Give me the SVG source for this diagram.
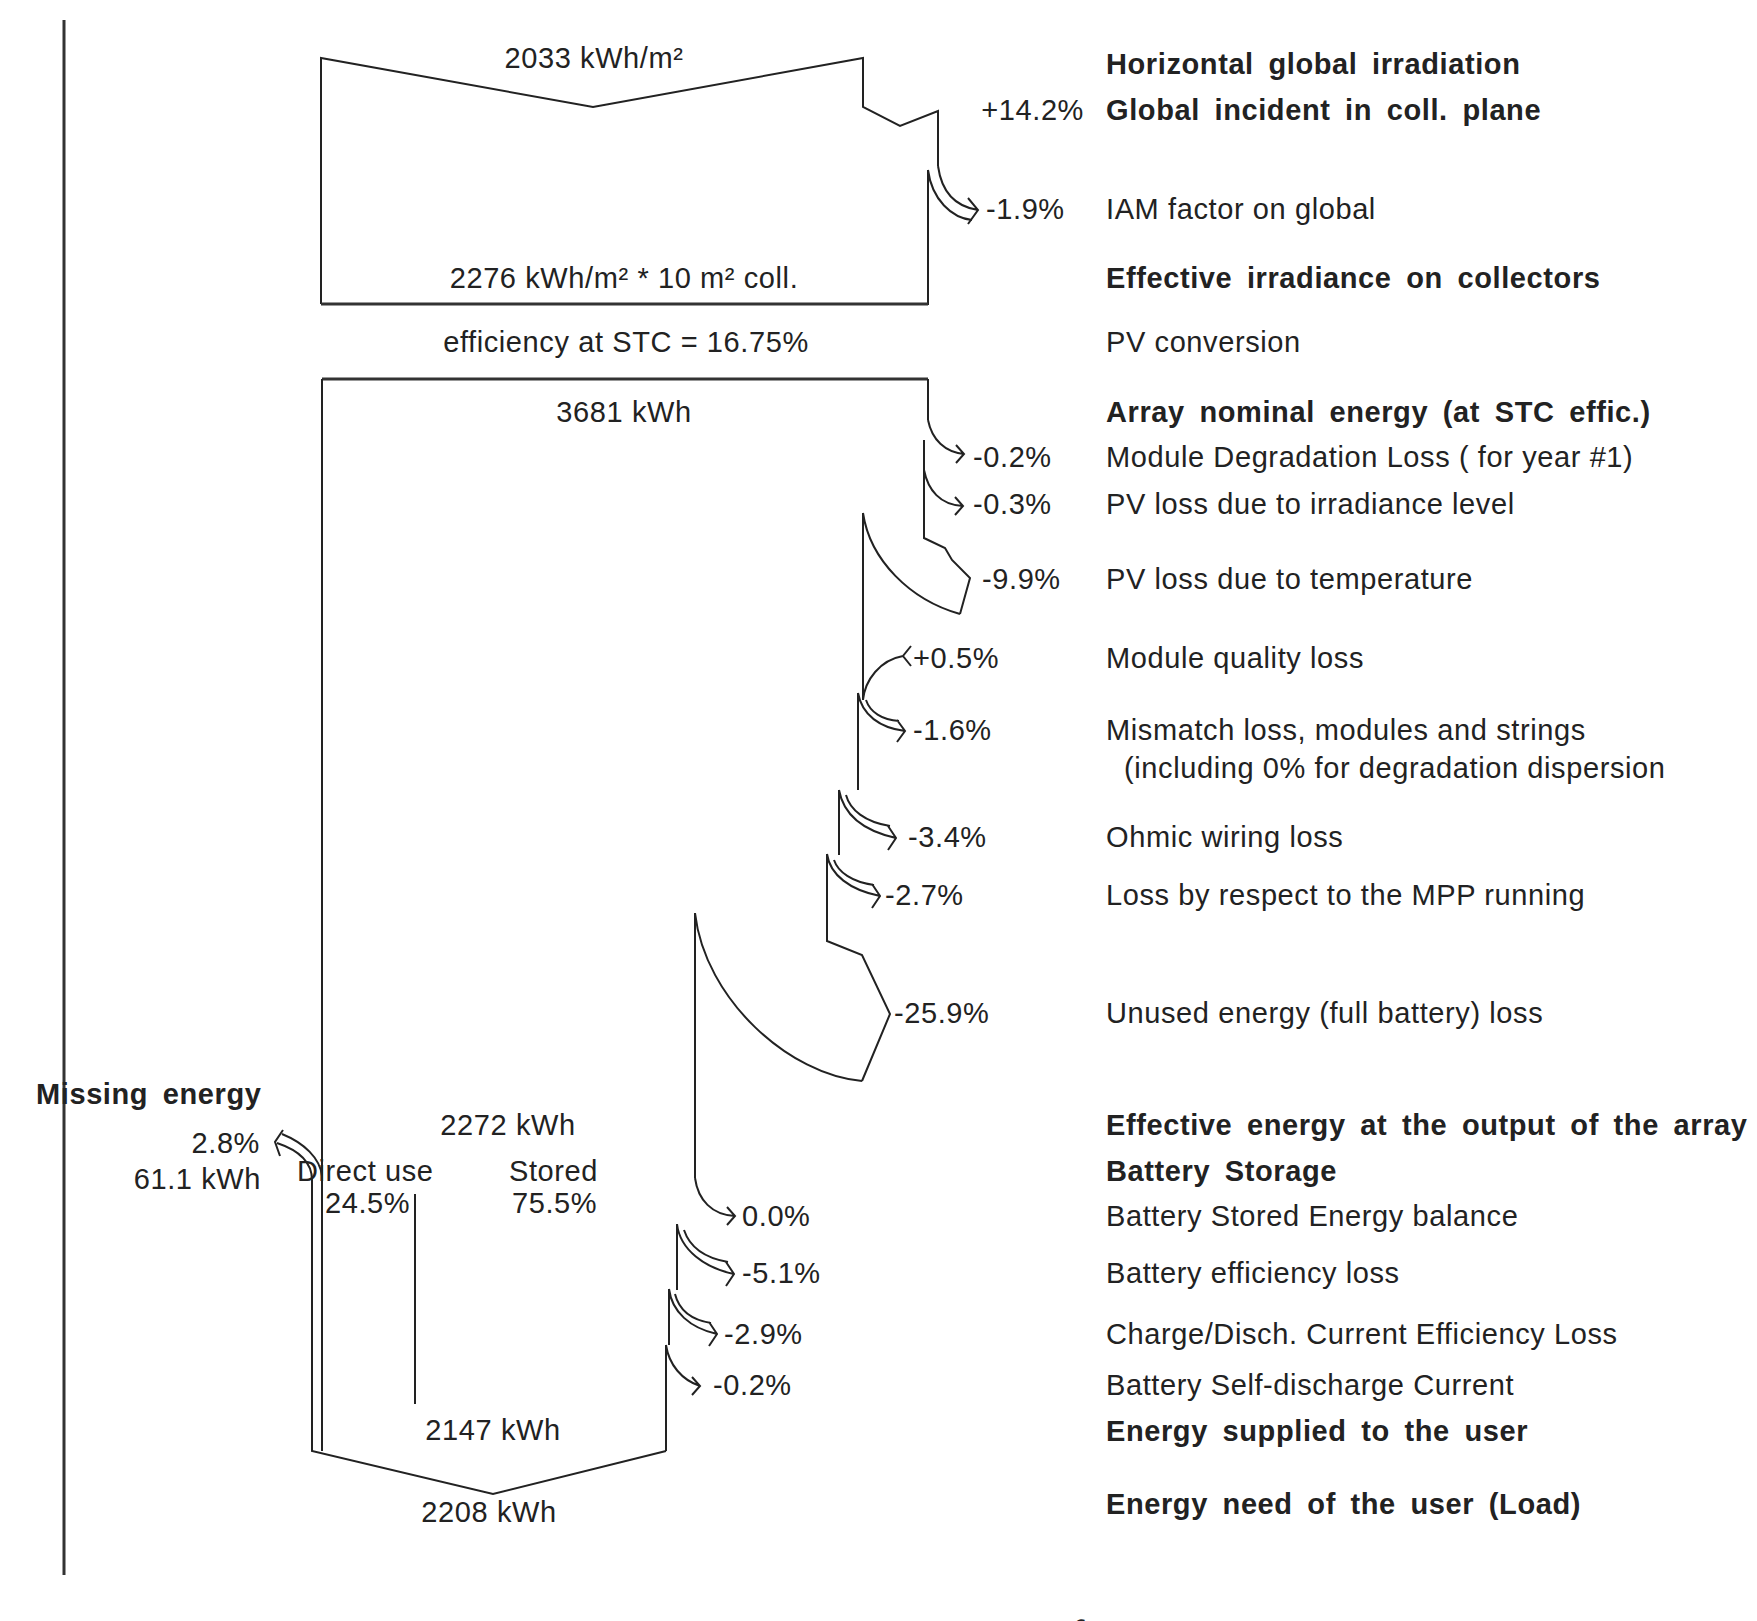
<svg xmlns="http://www.w3.org/2000/svg" width="1757" height="1621" viewBox="0 0 1757 1621">
<style>
text{font-family:"Liberation Sans",Arial,sans-serif;font-size:29px;letter-spacing:0.6px;fill:#222}
.b{font-weight:bold;word-spacing:6px}
.m{text-anchor:middle}
.e{text-anchor:end}
.ln{fill:none;stroke:#222;stroke-width:2}
.thk{fill:none;stroke:#333;stroke-width:3}
</style>
<rect width="1757" height="1621" fill="#fff"/>
<g id="axis"><line class="thk" x1="64" y1="20" x2="64" y2="1575"/></g>
<g id="irradiation-box">
<path class="ln" d="M321,304 L321,58 L593,107 L863,58 L863,107 L900,126 L938,111 L938,166"/>
<path class="ln" d="M928,170 L928,304 L321,304"/>
<line class="thk" x1="321" y1="304" x2="928" y2="304"/>
<text class="m" x="594" y="68">2033 kWh/m²</text>
<text class="m" x="624" y="288">2276 kWh/m² * 10 m² coll.</text>
</g>
<text class="m" x="626" y="352">efficiency at STC = 16.75%</text>
<g id="array-box">
<line class="thk" x1="322" y1="379" x2="928" y2="379"/>
<path class="ln" d="M322,379 L322,1451"/>
<path class="ln" d="M928,379 L928,420"/>
<path class="ln" d="M924,440 L924,538 L945,548 L952,560 L970,578 L960,614"/>
<path class="ln" d="M863,513 L863,700"/>
<path class="ln" d="M858,693 L858,790"/>
<path class="ln" d="M839,790 L839,855"/>
<path class="ln" d="M827,854 L827,941 L862,955 L890,1014 L862,1081"/>
<path class="ln" d="M695,913 L695,1178"/>
<path class="ln" d="M677,1224 L677,1290"/>
<path class="ln" d="M669,1289 L669,1345"/>
<path class="ln" d="M666,1345 L666,1451"/>
<path class="ln" d="M312,1180 L312,1451 L493,1494 L666,1451"/>
<line class="ln" x1="415" y1="1194" x2="415" y2="1404"/>
<text class="m" x="624" y="422">3681 kWh</text>
<text class="m" x="508" y="1135">2272 kWh</text>
<text x="297" y="1181">Direct use</text>
<text x="325" y="1213">24.5%</text>
<text x="509" y="1181">Stored</text>
<text x="512" y="1213">75.5%</text>
<text class="m" x="493" y="1440">2147 kWh</text>
<text class="m" x="489" y="1522">2208 kWh</text>
</g>
<g id="connectors">
<path class="ln" d="M938,166 C942,195 958,207 978,210 M928,170 C932,200 952,218 972,220 M968,198 L978,210 L968,224"/>
<path class="ln" d="M928,420 C932,440 945,452 964,454 M956,445 L964,454 L956,463"/>
<path class="ln" d="M924,470 C928,490 940,505 963,506 M955,497 L963,506 L955,515"/>
<path class="ln" d="M863,513 C870,560 910,600 960,614"/>
<path class="ln" d="M863,700 C865,680 880,660 903,656 M911,646 L903,656 L911,666"/>
<path class="ln" d="M858,693 C862,715 880,728 905,731 M866,700 C870,712 882,720 899,721 M897,720 L905,731 L897,742"/>
<path class="ln" d="M839,790 C843,812 860,830 896,838 M846,795 C850,810 865,822 890,826 M888,826 L896,838 L888,850"/>
<path class="ln" d="M827,854 C830,875 850,890 880,896 M834,860 C838,872 852,882 874,885 M872,884 L880,896 L872,908"/>
<path class="ln" d="M695,913 C705,1000 790,1075 862,1081"/>
<path class="ln" d="M695,1178 C698,1200 712,1215 735,1216 M727,1207 L735,1216 L727,1225"/>
<path class="ln" d="M677,1224 C680,1250 705,1268 734,1274 M684,1230 C690,1248 705,1258 728,1262 M726,1262 L734,1274 L726,1286"/>
<path class="ln" d="M669,1289 C672,1312 690,1328 717,1334 M675,1294 C679,1310 692,1320 711,1323 M709,1322 L717,1334 L709,1346"/>
<path class="ln" d="M666,1345 C669,1365 682,1380 700,1386 M692,1377 L700,1386 L692,1395"/>
<path class="ln" d="M312,1180 C312,1162 298,1150 277,1143 M322,1176 C320,1158 304,1143 282,1134 M283,1130 L275,1142 L280,1156"/>
</g>
<g id="percent-labels">
<text class="e" x="1084" y="120">+14.2%</text>
<text x="986" y="219">-1.9%</text>
<text x="973" y="467">-0.2%</text>
<text x="973" y="514">-0.3%</text>
<text x="982" y="589">-9.9%</text>
<text x="913" y="668">+0.5%</text>
<text x="913" y="740">-1.6%</text>
<text x="908" y="847">-3.4%</text>
<text x="885" y="905">-2.7%</text>
<text x="894" y="1023">-25.9%</text>
<text x="742" y="1226">0.0%</text>
<text x="742" y="1283">-5.1%</text>
<text x="724" y="1344">-2.9%</text>
<text x="713" y="1395">-0.2%</text>
</g>
<g id="missing-energy">
<text class="b" x="36" y="1104">Missing  energy</text>
<text class="e" x="260" y="1153">2.8%</text>
<text class="e" x="261" y="1189">61.1 kWh</text>
</g>
<g id="legend">
<text class="b" x="1106" y="74">Horizontal  global  irradiation</text>
<text class="b" x="1106" y="120">Global incident in coll. plane</text>
<text x="1106" y="219">IAM factor on global</text>
<text class="b" x="1106" y="288">Effective  irradiance  on  collectors</text>
<text x="1106" y="352">PV conversion</text>
<text class="b" x="1106" y="422">Array  nominal  energy  (at STC  effic.)</text>
<text x="1106" y="467">Module Degradation Loss ( for year #1)</text>
<text x="1106" y="514">PV loss due to irradiance level</text>
<text x="1106" y="589">PV loss due to temperature</text>
<text x="1106" y="668">Module quality loss</text>
<text x="1106" y="740">Mismatch loss, modules and strings</text>
<text x="1124" y="778">(including 0% for degradation dispersion</text>
<text x="1106" y="847">Ohmic wiring loss</text>
<text x="1106" y="905">Loss by respect to the MPP running</text>
<text x="1106" y="1023">Unused energy (full battery) loss</text>
<text class="b" x="1106" y="1135">Effective  energy  at  the  output  of  the  array</text>
<text class="b" x="1106" y="1181">Battery  Storage</text>
<text x="1106" y="1226">Battery Stored Energy balance</text>
<text x="1106" y="1283">Battery  efficiency  loss</text>
<text x="1106" y="1344">Charge/Disch. Current Efficiency Loss</text>
<text x="1106" y="1395">Battery Self-discharge Current</text>
<text class="b" x="1106" y="1441">Energy  supplied  to  the  user</text>
<text class="b" x="1106" y="1514">Energy  need  of  the  user  (Load)</text>
</g>
<text x="644" y="1652" style="font-family:'Liberation Serif',serif;font-size:46px">Fig 5. Loss Diagram of</text>
</svg>
